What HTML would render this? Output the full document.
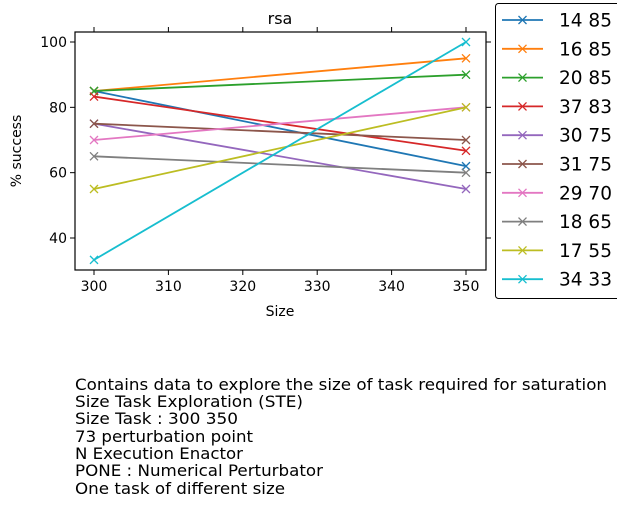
<!DOCTYPE html>
<html><head><meta charset="utf-8"><style>
body{margin:0;background:#fff;}
svg text{font-family:"DejaVu Sans","Liberation Sans",sans-serif;}
</style></head><body>
<svg width="617" height="524" xmlns="http://www.w3.org/2000/svg" id="svg">
<rect x="0" y="0" width="617" height="524" fill="#fff"/>
<text x="280" y="24" font-size="16" text-anchor="middle">rsa</text>
<g id="axes"></g>
<g id="series"></g>
<g id="legend"></g>
<text x="280" y="316" font-size="14" text-anchor="middle">Size</text>
<text transform="translate(21,151) rotate(-90)" font-size="14" text-anchor="middle">% success</text>
<g font-size="16" lengthAdjust="spacingAndGlyphs">
<text x="75" y="390" textLength="532" lengthAdjust="spacingAndGlyphs">Contains data to explore the size of task required for saturation</text>
<text x="75" y="407" textLength="228" lengthAdjust="spacingAndGlyphs">Size Task Exploration (STE)</text>
<text x="75" y="424" textLength="163" lengthAdjust="spacingAndGlyphs">Size Task : 300 350</text>
<text x="75" y="442" textLength="178" lengthAdjust="spacingAndGlyphs">73 perturbation point</text>
<text x="75" y="459" textLength="168" lengthAdjust="spacingAndGlyphs">N Execution Enactor</text>
<text x="75" y="476" textLength="248" lengthAdjust="spacingAndGlyphs">PONE : Numerical Perturbator</text>
<text x="75" y="494" textLength="210" lengthAdjust="spacingAndGlyphs">One task of different size</text>
</g>
</svg>
<script>
const categories=[300,350];
const seriesNames=["14 85","16 85","20 85","37 83","30 75","31 75","29 70","18 65","17 55","34 33"];
const seriesValues=[[85,62],[85,95],[85,90],[83.3,66.7],[75,55],[75,70],[70,80],[65,60],[55,80],[33.3,100]];
const colors=["#1f77b4","#ff7f0e","#2ca02c","#d62728","#9467bd","#8c564b","#e377c2","#7f7f7f","#bcbd22","#17becf"];
const xTicks=[300,310,320,330,340,350];
const yTicks=[40,60,80,100];
const L=75,R=486,T=32,B=270;
const xs=v=>94+(v-300)*(466-94)/50;
const ys=v=>238-(v-40)*(238-42)/60;
const NS="http://www.w3.org/2000/svg";
function mk(t,a,p){const e=document.createElementNS(NS,t);for(const k in a)e.setAttribute(k,a[k]);p.appendChild(e);return e;}
const ax=document.getElementById('axes');
const fr=mk('rect',{x:L,y:T,width:R-L,height:B-T,fill:'none',stroke:'#000','stroke-width':1.2},ax);


xTicks.forEach(v=>{const x=xs(v);
mk('line',{x1:x,x2:x,y1:B,y2:B+5,stroke:'#000'},ax);
mk('line',{x1:x,x2:x,y1:T,y2:T-5,stroke:'#000'},ax);
const t=mk('text',{x:x,y:B+21,'font-size':14,'text-anchor':'middle'},ax);t.textContent=v;

});
yTicks.forEach(v=>{const y=ys(v);
mk('line',{x1:L,x2:L-5,y1:y,y2:y,stroke:'#000'},ax);
mk('line',{x1:R,x2:R+5,y1:y,y2:y,stroke:'#000'},ax);
const t=mk('text',{x:L-8,y:y+5,'font-size':14,'text-anchor':'end'},ax);t.textContent=v;

});
function cross(x,y,c,p){mk('path',{d:`M${x-4},${y-4}L${x+4},${y+4}M${x-4},${y+4}L${x+4},${y-4}`,stroke:c,'stroke-width':1.3},p);}
const sg=document.getElementById('series');
seriesValues.forEach((vals,i)=>{const g=mk('g',{},sg);


mk('polyline',{points:vals.map((v,j)=>xs(categories[j])+','+ys(v)).join(' '),fill:'none',stroke:colors[i],'stroke-width':1.8},g);
vals.forEach((v,j)=>cross(xs(categories[j]),ys(v),colors[i],g));});
const lg=document.getElementById('legend');
mk('rect',{x:495.5,y:3.5,width:130,height:295,rx:3,fill:'#fff',stroke:'#000'},lg);
seriesNames.forEach((n,i)=>{const y=20+i*28.8;const g=mk('g',{},lg);


mk('line',{x1:502,x2:543,y1:y,y2:y,stroke:colors[i],'stroke-width':1.8},g);
cross(522.5,y,colors[i],g);
const t=mk('text',{x:559,y:y+6.5,'font-size':18.5},g);t.textContent=n;});
</script>
</body></html>
